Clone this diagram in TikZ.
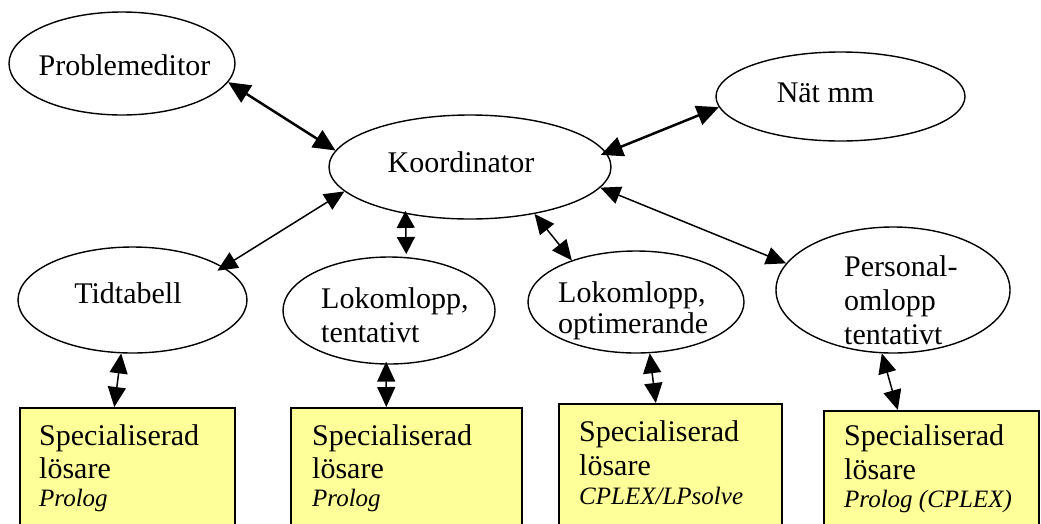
\documentclass[tikz,border=0pt]{standalone}
\usepackage{fontspec}
\setmainfont{Liberation Serif}
\usetikzlibrary{arrows.meta,shapes.geometric}
\definecolor{solverfill}{HTML}{FFFF99}
\tikzset{
  ell/.style={draw, ellipse, line width=1.4pt, inner sep=0pt},
  solver/.style={draw, line width=1.6pt, fill=solverfill, anchor=north west,
    inner sep=0pt, minimum height=150pt},
  lbl/.style={inner sep=0pt, font=\fontsize{30}{34}\selectfont},
  tool/.style={inner sep=0pt, anchor=base west, font=\fontsize{25}{28}\selectfont\itshape},
  link/.style={{Triangle[length=20pt,width=18pt]}-{Triangle[length=20pt,width=18pt]},
    line width=1.5pt},
  shortlink/.style={{Triangle[length=17pt,width=18pt]}-{Triangle[length=17pt,width=18pt]},
    line width=1.5pt},
  boldlink/.style={{Triangle[length=22pt,width=20pt]}-{Triangle[length=22pt,width=20pt]},
    line width=2.5pt},
}
\begin{document}
\begin{tikzpicture}[x=1pt,y=-1pt]
\path[use as bounding box, clip] (0,0) rectangle (1041,523);

% components
\node[ell, minimum width=226pt, minimum height=103pt] (PE) at (122,63.5) {};
\node[ell, minimum width=282pt, minimum height=104pt] (K) at (470,167) {};
\node[ell, minimum width=249pt, minimum height=89pt] (N) at (840.5,96.5) {};
\node[ell, minimum width=229pt, minimum height=106pt] (T) at (132.5,300) {};
\node[ell, minimum width=212pt, minimum height=107pt] (LT) at (389,310.5) {};
\node[ell, minimum width=216pt, minimum height=102pt] (LO) at (636,302) {};
\node[ell, minimum width=234pt, minimum height=126pt] (P) at (893,290) {};

% solvers
\node[solver, minimum width=215pt] (B1) at (19,407) {};
\node[solver, minimum width=231pt] (B2) at (290,407) {};
\node[solver, minimum width=223pt] (B3) at (558,403) {};
\node[solver, minimum width=215pt] (B4) at (823,410) {};

% component labels
\node[lbl, anchor=base] (tPE) at (124.5,75) {Problemeditor};
\node[lbl, anchor=base] (tK) at (461,172) {Koordinator};
\node[lbl, anchor=base] (tN) at (825.5,102) {Nät mm};
\node[lbl, anchor=base] (tT) at (128,303) {Tidtabell};
\node[lbl, anchor=base west] (tLTa) at (321,308) {Lokomlopp,};
\node[lbl, anchor=base west] (tLTb) at (321,342) {tentativt};
\node[lbl, anchor=base west] (tLOa) at (558,302) {Lokomlopp,};
\node[lbl, anchor=base west] (tLOb) at (558,333) {optimerande};
\node[lbl, anchor=base west] (tPa) at (844,276) {Personal-};
\node[lbl, anchor=base west] (tPb) at (844,310) {omlopp};
\node[lbl, anchor=base west] (tPc) at (844,344) {tentativt};

% solver labels
\node[lbl, anchor=base west] (s1a) at (39,445) {Specialiserad};
\node[lbl, anchor=base west] (s1b) at (39,478) {lösare};
\node[tool] (s1c) at (39,506) {Prolog};
\node[lbl, anchor=base west] (s2a) at (312,445) {Specialiserad};
\node[lbl, anchor=base west] (s2b) at (312,478) {lösare};
\node[tool] (s2c) at (312,506) {Prolog};
\node[lbl, anchor=base west] (s3a) at (579,441) {Specialiserad};
\node[lbl, anchor=base west] (s3b) at (579,475) {lösare};
\node[tool] (s3c) at (579,504) {CPLEX/LPsolve};
\node[lbl, anchor=base west] (s4a) at (844,445) {Specialiserad};
\node[lbl, anchor=base west] (s4b) at (844,479) {lösare};
\node[tool] (s4c) at (844,507) {Prolog (CPLEX)};

% connections
\draw[boldlink] (PE.-10) -- (K.173);
\draw[boldlink, shorten <=-6pt] (K.6) -- (N.185);
\draw[link, shorten >=-7pt] (K.191) -- (T.20);
\draw[shortlink, shorten <=-3pt, shorten >=3pt] (K.216) -- (LT.72);
\draw[link] (K.-36) -- (LO.147);
\draw[link] (K.-9) -- (P.166);
\draw[link] (T.258) -- ([xshift=-13pt]B1.north);
\draw[link, shorten <=-3pt] (LT.267) -- ([xshift=-20pt]B2.north);
\draw[link] (LO.-75) -- ([xshift=-14.5pt]B3.north);
\draw[link] (P.260) -- ([xshift=-33.5pt]B4.north);
\end{tikzpicture}
\end{document}
